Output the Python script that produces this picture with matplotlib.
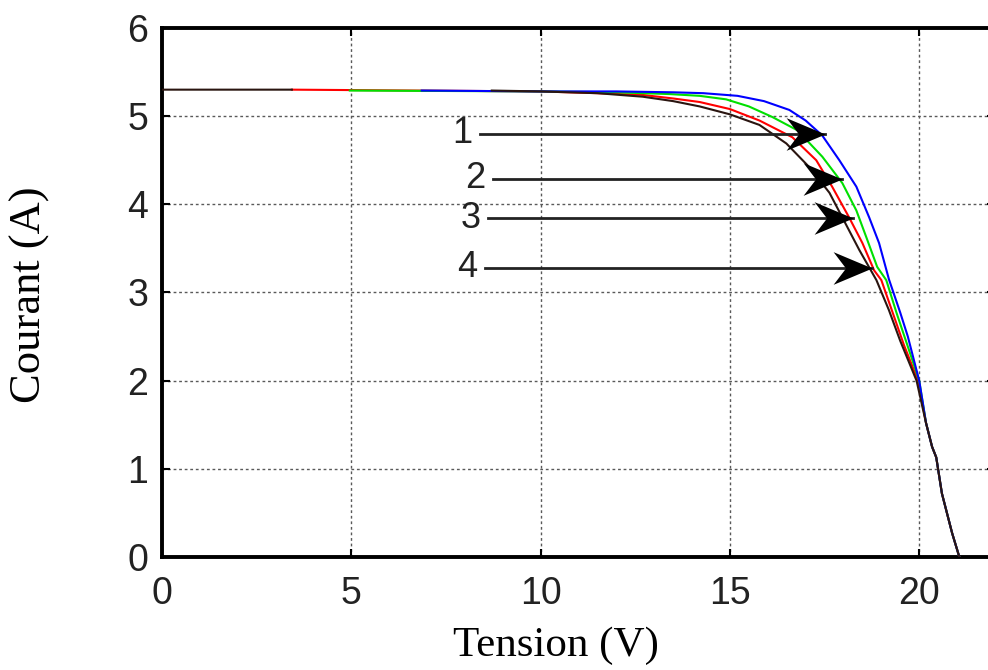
import numpy as np
import matplotlib
matplotlib.use("Agg")
import matplotlib.pyplot as plt
from matplotlib.path import Path

# I-V curves (tension in V, courant in A)
v_blue = [6.86, 10, 12, 13.5, 14.3, 15.2, 15.9, 16.57, 17.0, 17.44, 17.89, 18.34, 18.68, 18.94,
          19.2, 19.5, 19.7, 20.0, 20.18, 20.34, 20.45, 20.6, 20.87, 21.06]
i_blue = [5.29, 5.28, 5.28, 5.27, 5.26, 5.23, 5.17, 5.07, 4.95, 4.78, 4.50, 4.20, 3.85, 3.56,
          3.15, 2.77, 2.50, 2.0, 1.52, 1.25, 1.13, 0.72, 0.27, 0.0]

v_green = [4.96, 10, 12, 13.4, 14.2, 14.9, 15.5, 16.12, 16.78, 17.44, 17.97, 18.34, 18.6, 18.89,
           19.13, 19.4, 19.65, 20.0, 20.18, 20.34, 20.45, 20.6, 20.87, 21.06]
i_green = [5.29, 5.28, 5.27, 5.25, 5.23, 5.19, 5.11, 4.99, 4.84, 4.54, 4.24, 3.93, 3.63, 3.29,
           3.14, 2.77, 2.45, 2.0, 1.52, 1.25, 1.13, 0.72, 0.27, 0.0]

v_red = [3.43, 10, 11.5, 12.7, 13.5, 14.2, 15.0, 15.78, 16.65, 17.28, 17.7, 18.15, 18.5, 18.81,
         19.0, 19.3, 19.6, 19.97, 20.18, 20.34, 20.45, 20.6, 20.87, 21.06]
i_red = [5.30, 5.28, 5.26, 5.24, 5.20, 5.16, 5.08, 4.95, 4.76, 4.50, 4.20, 3.85, 3.56, 3.25,
         3.14, 2.77, 2.40, 2.0, 1.52, 1.25, 1.13, 0.72, 0.27, 0.0]

v_black = [0, 3.43, np.nan, 8.71, 10, 11.5, 12.7, 13.5, 14.2, 15.0, 15.78, 16.49, 17.1, 17.63,
           17.97, 18.42, 18.87, 19.2, 19.5, 19.93, 20.18, 20.34, 20.45, 20.6, 20.87, 21.06]
i_black = [5.30, 5.30, np.nan, 5.29, 5.28, 5.26, 5.22, 5.17, 5.11, 5.02, 4.90, 4.69, 4.42, 4.13,
           3.85, 3.48, 3.14, 2.80, 2.45, 2.0, 1.52, 1.25, 1.13, 0.72, 0.27, 0.0]

# numbered arrows
arrow_labels = ["1", "2", "3", "4"]
label_v = [7.93, 8.27, 8.14, 8.06]
arrow_i = [4.80, 4.29, 3.84, 3.28]
start_v = [8.40, 8.74, 8.61, 8.53]
tip_v = [17.52, 17.97, 18.26, 18.76]

x_ticks = [0, 5, 10, 15, 20]
y_ticks = [0, 1, 2, 3, 4, 5, 6]

fig = plt.figure(figsize=(9.88, 6.70), dpi=100)
ax = fig.add_axes([0.164, 0.1687, 0.843, 0.7896])

ax.plot(v_red, i_red, color="#ff0000", lw=1.5, zorder=3)
ax.plot(v_green, i_green, color="#00e000", lw=1.5, zorder=3)
ax.plot(v_blue, i_blue, color="#0000ff", lw=1.5, zorder=3)
ax.plot(v_black, i_black, color="#2a1510", lw=1.5, zorder=3)

# dart-shaped arrow head, tip at the origin
dart = Path([(0, 0), (-1, 0.42), (-0.68, 0), (-1, -0.42), (0, 0)],
            [Path.MOVETO, Path.LINETO, Path.LINETO, Path.LINETO, Path.CLOSEPOLY])

for lab, lv, ai, sv, tv in zip(arrow_labels, label_v, arrow_i, start_v, tip_v):
    ax.plot([sv, tv], [ai, ai], color="#222222", lw=2, zorder=4)
    ax.plot([tv], [ai], marker=dart, markersize=56, color="black", mew=0, zorder=5)
    ax.text(lv, ai, lab, fontsize=26, family="Liberation Sans", ha="center", va="center",
            color="#222222", zorder=5)

ax.set_xlim(0, 22)
ax.set_ylim(0, 6)
ax.set_xticks(x_ticks)
ax.set_yticks(y_ticks)
ax.grid(True, color="0.35", linestyle=(0, (2, 2)), lw=1.0)
ax.tick_params(direction="in", length=6, width=1.5, top=True, right=True,
               labelsize=27, pad=10)
ax.tick_params(axis="x", pad=14)
for lbl in ax.get_xticklabels() + ax.get_yticklabels():
    lbl.set_family("Liberation Sans")
    lbl.set_color("#222222")
for s in ax.spines.values():
    s.set_linewidth(2.8)

fig.text(0.563, 0.036, "Tension (V)", family="Liberation Serif", fontsize=31,
         ha="center", va="center")
fig.text(0.030, 0.56, "Courant (A)", family="Liberation Serif", fontsize=32,
         ha="center", va="center", rotation=90)

fig.savefig("out.png", dpi=100)
